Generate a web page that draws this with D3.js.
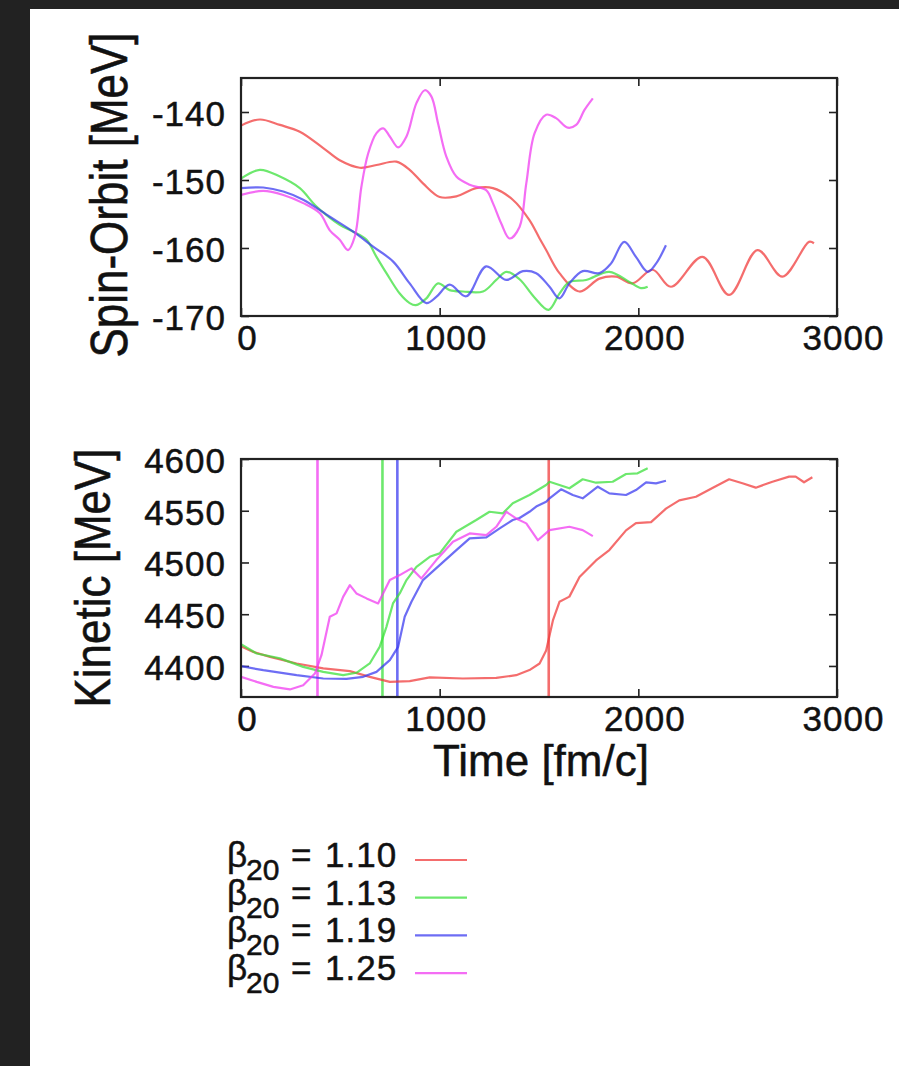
<!DOCTYPE html>
<html>
<head>
<meta charset="utf-8">
<script src="https://cdn.jsdelivr.net/npm/d3@7"></script>
<style>
  html, body { margin: 0; padding: 0; background: #222; }
  svg { display: block; }
  text { font-family: "Liberation Sans", Arial, Helvetica, sans-serif; fill: #111; stroke: #111; stroke-width: 0.5; }
</style>
</head>
<body>
<script>
// Deformation labels and line colours, one per run
const betaLabels = ["1.10", "1.13", "1.19", "1.25"];
const runColors = ["#f03c3c", "#3ce03c", "#3c3cf0", "#f03cf0"];

// Time axis ticks [fm/c]
const timeTicks = [0, 1000, 2000, 3000];
const spinOrbitTicks = [-140, -150, -160, -170];
const kineticTicks = [4400, 4450, 4500, 4550, 4600];

// Spin-orbit energy [MeV] versus time [fm/c]
const spinOrbit110 = [[0,-142.0],[95,-141.1],[196,-141.9],[296,-142.9],[414,-145.3],[497,-147.1],[598,-148.2],[682,-147.8],[782,-147.3],[849,-148.5],[916,-150.5],[1000,-152.5],[1084,-152.4],[1184,-151.2],[1268,-151.2],[1368,-152.9],[1452,-155.9],[1503,-158.6],[1536,-160.3],[1603,-163.7],[1704,-166.4],[1804,-164.5],[1888,-164.2],[1971,-165.2],[2072,-163.2],[2164,-165.7],[2323,-161.3],[2457,-166.9],[2600,-160.3],[2725,-164.2],[2859,-159.1],[2884,-159.3]];
const spinOrbit113 = [[0,-149.8],[95,-148.5],[196,-149.5],[296,-151.2],[380,-153.9],[497,-156.6],[565,-157.6],[632,-158.8],[682,-161.3],[732,-163.7],[799,-166.7],[849,-168.1],[880,-168.4],[933,-167.4],[992,-165.2],[1050,-166.2],[1117,-166.4],[1218,-166.4],[1285,-164.7],[1335,-163.5],[1402,-164.6],[1475,-167.2],[1548,-169.1],[1603,-166.7],[1653,-165.0],[1737,-164.7],[1854,-163.5],[1955,-165.0],[2013,-165.9],[2047,-165.7]];
const spinOrbit119 = [[0,-151.2],[112,-151.1],[213,-151.7],[313,-152.9],[447,-155.4],[565,-157.6],[665,-159.8],[766,-162.0],[849,-165.2],[933,-168.1],[983,-167.2],[1050,-165.4],[1134,-167.1],[1234,-162.7],[1335,-164.7],[1419,-163.4],[1486,-163.7],[1553,-165.7],[1603,-167.4],[1653,-165.2],[1720,-163.4],[1804,-163.7],[1862,-162.3],[1929,-159.1],[1988,-161.3],[2047,-163.5],[2089,-162.3],[2139,-159.6]];
const spinOrbit125 = [[0,-152.2],[112,-151.6],[213,-152.2],[313,-153.4],[397,-154.9],[447,-157.4],[497,-158.8],[539,-160.3],[573,-158.3],[606,-151.0],[640,-146.1],[682,-143.1],[716,-142.4],[749,-143.6],[791,-145.2],[833,-143.6],[883,-138.7],[925,-136.8],[958,-137.7],[992,-141.7],[1034,-146.6],[1084,-149.5],[1151,-150.7],[1234,-151.5],[1268,-153.4],[1310,-156.4],[1352,-158.6],[1402,-156.9],[1436,-150.5],[1478,-143.1],[1536,-140.4],[1586,-140.9],[1645,-142.3],[1687,-141.9],[1729,-139.7],[1771,-138.0]];

// Kinetic energy [MeV] versus time [fm/c]
const kinetic110 = [[0,4419],[62,4413.6],[146,4408.8],[280,4402.4],[414,4397.6],[548,4395],[648,4389.5],[749,4384.6],[849,4385.3],[950,4388.9],[1117,4387.9],[1285,4388.5],[1385,4391.1],[1452,4396],[1503,4402.4],[1536,4415],[1570,4444],[1603,4462],[1653,4467],[1704,4486],[1787,4502],[1854,4512],[1938,4531],[1988,4538],[2064,4539],[2139,4552],[2206,4560],[2290,4563.5],[2373,4572],[2457,4580.4],[2524,4576.5],[2591,4572.3],[2675,4578],[2759,4583],[2792,4583],[2834,4577.5],[2876,4582.3]];
const kinetic113 = [[0,4421],[79,4412],[196,4407.3],[313,4399.1],[414,4394.3],[514,4391.1],[581,4393.4],[648,4402.4],[698,4418.5],[732,4437.8],[765,4460.4],[799,4470.1],[833,4483],[883,4495.8],[950,4505.5],[1000,4508.8],[1084,4529.7],[1184,4541],[1251,4549],[1318,4547.5],[1368,4557.2],[1452,4565.2],[1536,4574.9],[1553,4578],[1653,4571.7],[1720,4580.4],[1787,4577.1],[1871,4578],[1938,4585.5],[1996,4586.2],[2047,4591]];
const kinetic119 = [[0,4399.8],[112,4395.9],[280,4391.1],[414,4387.9],[531,4387.5],[615,4389.5],[682,4394.3],[749,4405.6],[791,4418.5],[824,4447.5],[858,4462],[916,4483],[1000,4497.5],[1084,4512],[1151,4523.3],[1235,4524.3],[1302,4533],[1368,4541],[1402,4543],[1452,4549],[1486,4554],[1536,4558.7],[1553,4562],[1611,4570.7],[1670,4565.2],[1720,4562],[1796,4573.2],[1854,4566.8],[1938,4565.2],[1988,4570],[2039,4577.5],[2089,4576.5],[2139,4579]];
const kinetic125 = [[0,4389.5],[79,4384.6],[163,4379.8],[246,4377.3],[313,4381.4],[372,4392.7],[405,4410.4],[447,4447.5],[481,4450.8],[514,4466.8],[548,4478.1],[581,4470.1],[632,4465.3],[690,4460.4],[749,4483],[799,4487.8],[858,4494.3],[908,4484.6],[983,4502.3],[1067,4520],[1151,4528.1],[1235,4526.5],[1285,4534.5],[1335,4549],[1385,4542.6],[1436,4537.8],[1494,4521.5],[1553,4531.3],[1653,4534.5],[1720,4531.3],[1771,4525.5]];

// Scission time of each run [fm/c]
const scissionTimes = [1549, 712, 787, 385];

const spinOrbitRuns = [spinOrbit110, spinOrbit113, spinOrbit119, spinOrbit125];
const kineticRuns = [kinetic110, kinetic113, kinetic119, kinetic125];

const W = 899, H = 1066;
const svg = d3.select("body").append("svg").attr("width", W).attr("height", H);

svg.append("rect").attr("width", W).attr("height", H).attr("fill", "#222");
svg.append("rect").attr("x", 30).attr("y", 9).attr("width", W - 30).attr("height", H - 9).attr("fill", "#fff");

const plotLeft = 241, plotRight = 837;
const tickFont = 35, titleFont = 44;
const plain = d => String(d);   // ASCII hyphen for negatives, no thousands separator

function panel(opts) {
  const x = d3.scaleLinear().domain([0, 3000]).range([plotLeft, plotRight]);
  const y = d3.scaleLinear().domain(opts.yDomain).range([opts.bottom, opts.top]);
  const g = svg.append("g");

  // inward ticks on all four sides
  const left = g.append("g").attr("transform", `translate(${plotLeft},0)`)
    .call(d3.axisLeft(y).tickValues(opts.yTicks).tickSize(-8).tickPadding(15).tickFormat(plain));
  const right = g.append("g").attr("transform", `translate(${plotRight},0)`)
    .call(d3.axisRight(y).tickValues(opts.yTicks).tickSize(-8).tickFormat(""));
  const bottom = g.append("g").attr("transform", `translate(0,${opts.bottom})`)
    .call(d3.axisBottom(x).tickValues(timeTicks).tickSize(-8).tickPadding(9).tickFormat(plain));
  const top = g.append("g").attr("transform", `translate(0,${opts.top})`)
    .call(d3.axisTop(x).tickValues(timeTicks).tickSize(-8).tickFormat(""));
  [left, right, bottom, top].forEach(a => {
    a.select(".domain").remove();
    a.selectAll(".tick line").attr("stroke", "#222").attr("stroke-width", 1.6);
    a.selectAll("text").attr("font-size", tickFont).attr("fill", "#111")
      .attr("letter-spacing", 1)
      .attr("font-family", "Liberation Sans, Arial, sans-serif");
  });
  left.selectAll("text").attr("dy", "0.38em");
  bottom.selectAll("text").attr("dx", 6);

  const clipId = "clip" + opts.top;
  svg.append("clipPath").attr("id", clipId).append("rect")
    .attr("x", plotLeft).attr("y", opts.top)
    .attr("width", plotRight - plotLeft).attr("height", opts.bottom - opts.top);
  const plot = g.append("g").attr("clip-path", `url(#${clipId})`);

  if (opts.markers) {
    opts.markers.forEach((t, i) => {
      plot.append("line")
        .attr("x1", x(t)).attr("x2", x(t)).attr("y1", opts.top).attr("y2", opts.bottom)
        .attr("stroke", runColors[i]).attr("stroke-width", 2.6).attr("stroke-opacity", 0.75);
    });
  }

  const line = d3.line().x(d => x(d[0])).y(d => y(d[1])).curve(opts.curve);
  opts.runs.forEach((run, i) => {
    plot.append("path").datum(run)
      .attr("d", line)
      .attr("fill", "none")
      .attr("stroke", runColors[i])
      .attr("stroke-width", 2.2)
      .attr("stroke-opacity", 0.75)
      .attr("stroke-linejoin", "round");
  });

  g.append("rect")
    .attr("x", plotLeft).attr("y", opts.top)
    .attr("width", plotRight - plotLeft).attr("height", opts.bottom - opts.top)
    .attr("fill", "none").attr("stroke", "#222").attr("stroke-width", 2.2);

  g.append("text")
    .attr("transform", `translate(${opts.titleX},${opts.titleY}) rotate(-90) scale(1,${opts.titleStretch})`)
    .attr("text-anchor", "middle")
    .attr("font-size", titleFont)
    .text(opts.title);
  return x;
}

panel({
  top: 78, bottom: 316, yDomain: [-170, -135], yTicks: spinOrbitTicks,
  runs: spinOrbitRuns, curve: d3.curveCatmullRom.alpha(0.5),
  title: "Spin-Orbit [MeV]", titleX: 127, titleY: 195, titleStretch: 1.18
});

panel({
  top: 459, bottom: 697, yDomain: [4370, 4600], yTicks: kineticTicks,
  runs: kineticRuns, curve: d3.curveLinear, markers: scissionTimes,
  title: "Kinetic [MeV]", titleX: 110, titleY: 578, titleStretch: 1.12
});

svg.append("text")
  .attr("x", (plotLeft + plotRight) / 2 + 2).attr("y", 776)
  .attr("text-anchor", "middle")
  .attr("font-size", titleFont)
  .text("Time [fm/c]");

// legend: β₂₀ label, value, and a line sample for each run
const legend = svg.append("g");
betaLabels.forEach((b, i) => {
  const ly = 860 + i * 37.7;
  const t = legend.append("text").attr("y", ly + 7).attr("font-size", 35);
  t.append("tspan").attr("x", 227).text("β");
  t.append("tspan").attr("x", 246).attr("font-size", 30).attr("dy", 13).text("20");
  t.append("tspan").attr("x", 291).attr("dy", -13).text("=");
  t.append("tspan").attr("x", 325).attr("letter-spacing", 1).text(b);
  legend.append("line")
    .attr("x1", 415).attr("x2", 467).attr("y1", ly).attr("y2", ly)
    .attr("stroke", runColors[i]).attr("stroke-width", 2.2).attr("stroke-opacity", 0.75);
});
</script>
</body>
</html>
